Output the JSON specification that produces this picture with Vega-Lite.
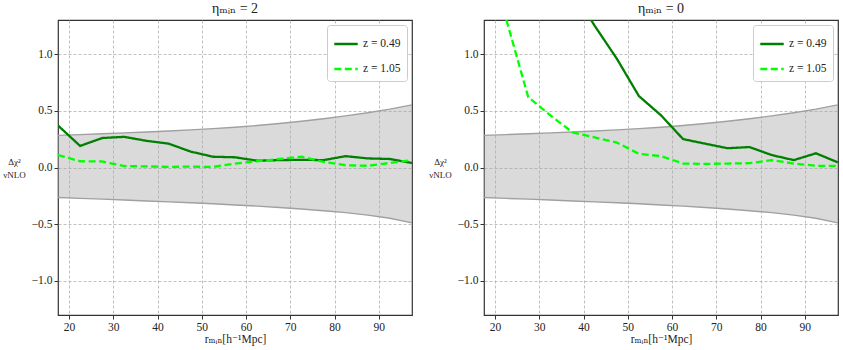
{
  "$schema": "https://vega.github.io/schema/vega-lite/v6.json",
  "background": "white",
  "padding": {"left": 2, "top": 1, "right": 4, "bottom": 4},
  "spacing": 15,
  "config": {
    "font": "'Liberation Serif', 'DejaVu Serif', serif",
    "view": {"stroke": "#333333", "strokeWidth": 1.2},
    "axis": {
      "labelFont": "'Liberation Serif', 'DejaVu Serif', serif", "labelFontSize": 11.5, "labelColor": "#222222",
      "tickColor": "#333333", "tickSize": 4, "labelPadding": 2, "domain": false,
      "gridColor": "#b0b0b0", "gridDash": [3, 2], "gridWidth": 0.8,
      "titleFont": "'Liberation Serif', 'DejaVu Serif', serif", "titleFontWeight": "normal", "titleFontSize": 11.5, "titleColor": "#222222"
    },
    "title": {"font": "'Liberation Serif', 'DejaVu Serif', serif", "fontSize": 14, "fontWeight": "normal", "color": "#222222", "offset": 4},
    "legend": {
      "orient": "top-right", "offset": 5, "fillColor": "white", "strokeColor": "#cccccc", "cornerRadius": 3,
      "padding": 6, "labelFont": "'Liberation Serif', 'DejaVu Serif', serif", "labelFontSize": 11.5, "labelColor": "#222222",
      "symbolStrokeWidth": 2.5, "symbolSize": 550, "rowPadding": 6
    }
  },
  "datasets": {
    "band": [
      {"x": 17.5, "upper": 0.283, "lower": -0.265},
      {"x": 22.5, "upper": 0.29, "lower": -0.272},
      {"x": 27.5, "upper": 0.297, "lower": -0.279},
      {"x": 32.5, "upper": 0.305, "lower": -0.287},
      {"x": 37.5, "upper": 0.313, "lower": -0.295},
      {"x": 42.5, "upper": 0.322, "lower": -0.303},
      {"x": 47.5, "upper": 0.332, "lower": -0.311},
      {"x": 52.5, "upper": 0.343, "lower": -0.32},
      {"x": 57.5, "upper": 0.355, "lower": -0.33},
      {"x": 62.5, "upper": 0.37, "lower": -0.34},
      {"x": 67.5, "upper": 0.388, "lower": -0.352},
      {"x": 72.5, "upper": 0.408, "lower": -0.366},
      {"x": 77.5, "upper": 0.43, "lower": -0.381},
      {"x": 82.5, "upper": 0.455, "lower": -0.398},
      {"x": 87.5, "upper": 0.483, "lower": -0.42},
      {"x": 92.5, "upper": 0.515, "lower": -0.447},
      {"x": 97.5, "upper": 0.552, "lower": -0.488}
    ],
    "lines": [
      {"panel": "a", "series": "z = 0.49", "x": 17.5, "value": 0.37},
      {"panel": "a", "series": "z = 0.49", "x": 22.5, "value": 0.19},
      {"panel": "a", "series": "z = 0.49", "x": 27.5, "value": 0.26},
      {"panel": "a", "series": "z = 0.49", "x": 32.5, "value": 0.27},
      {"panel": "a", "series": "z = 0.49", "x": 37.5, "value": 0.235},
      {"panel": "a", "series": "z = 0.49", "x": 42.5, "value": 0.21},
      {"panel": "a", "series": "z = 0.49", "x": 47.5, "value": 0.14},
      {"panel": "a", "series": "z = 0.49", "x": 52.5, "value": 0.095},
      {"panel": "a", "series": "z = 0.49", "x": 57.5, "value": 0.09},
      {"panel": "a", "series": "z = 0.49", "x": 62.5, "value": 0.06},
      {"panel": "a", "series": "z = 0.49", "x": 67.5, "value": 0.065},
      {"panel": "a", "series": "z = 0.49", "x": 72.5, "value": 0.068},
      {"panel": "a", "series": "z = 0.49", "x": 77.5, "value": 0.065},
      {"panel": "a", "series": "z = 0.49", "x": 82.5, "value": 0.1},
      {"panel": "a", "series": "z = 0.49", "x": 87.5, "value": 0.08},
      {"panel": "a", "series": "z = 0.49", "x": 92.5, "value": 0.075},
      {"panel": "a", "series": "z = 0.49", "x": 97.5, "value": 0.04},
      {"panel": "a", "series": "z = 1.05", "x": 17.5, "value": 0.11},
      {"panel": "a", "series": "z = 1.05", "x": 22.5, "value": 0.055},
      {"panel": "a", "series": "z = 1.05", "x": 27.5, "value": 0.053},
      {"panel": "a", "series": "z = 1.05", "x": 32.5, "value": 0.012},
      {"panel": "a", "series": "z = 1.05", "x": 37.5, "value": 0.01},
      {"panel": "a", "series": "z = 1.05", "x": 42.5, "value": 0.005},
      {"panel": "a", "series": "z = 1.05", "x": 47.5, "value": 0.008},
      {"panel": "a", "series": "z = 1.05", "x": 52.5, "value": 0.005},
      {"panel": "a", "series": "z = 1.05", "x": 57.5, "value": 0.035},
      {"panel": "a", "series": "z = 1.05", "x": 62.5, "value": 0.055},
      {"panel": "a", "series": "z = 1.05", "x": 67.5, "value": 0.075},
      {"panel": "a", "series": "z = 1.05", "x": 72.5, "value": 0.095},
      {"panel": "a", "series": "z = 1.05", "x": 77.5, "value": 0.05},
      {"panel": "a", "series": "z = 1.05", "x": 82.5, "value": 0.02},
      {"panel": "a", "series": "z = 1.05", "x": 87.5, "value": 0.015},
      {"panel": "a", "series": "z = 1.05", "x": 92.5, "value": 0.04},
      {"panel": "a", "series": "z = 1.05", "x": 97.5, "value": 0.065},
      {"panel": "b", "series": "z = 0.49", "x": 17.5, "value": 3.4},
      {"panel": "b", "series": "z = 0.49", "x": 22.5, "value": 2.9},
      {"panel": "b", "series": "z = 0.49", "x": 27.5, "value": 2.4},
      {"panel": "b", "series": "z = 0.49", "x": 32.5, "value": 1.95},
      {"panel": "b", "series": "z = 0.49", "x": 37.5, "value": 1.56},
      {"panel": "b", "series": "z = 0.49", "x": 42.5, "value": 1.25},
      {"panel": "b", "series": "z = 0.49", "x": 47.5, "value": 0.96},
      {"panel": "b", "series": "z = 0.49", "x": 52.5, "value": 0.63},
      {"panel": "b", "series": "z = 0.49", "x": 57.5, "value": 0.46},
      {"panel": "b", "series": "z = 0.49", "x": 62.5, "value": 0.25},
      {"panel": "b", "series": "z = 0.49", "x": 67.5, "value": 0.21},
      {"panel": "b", "series": "z = 0.49", "x": 72.5, "value": 0.17},
      {"panel": "b", "series": "z = 0.49", "x": 77.5, "value": 0.18},
      {"panel": "b", "series": "z = 0.49", "x": 82.5, "value": 0.11},
      {"panel": "b", "series": "z = 0.49", "x": 87.5, "value": 0.065},
      {"panel": "b", "series": "z = 0.49", "x": 92.5, "value": 0.125},
      {"panel": "b", "series": "z = 0.49", "x": 97.5, "value": 0.045},
      {"panel": "b", "series": "z = 1.05", "x": 17.5, "value": 2.3},
      {"panel": "b", "series": "z = 1.05", "x": 22.5, "value": 1.31},
      {"panel": "b", "series": "z = 1.05", "x": 27.5, "value": 0.62},
      {"panel": "b", "series": "z = 1.05", "x": 32.5, "value": 0.46},
      {"panel": "b", "series": "z = 1.05", "x": 37.5, "value": 0.31},
      {"panel": "b", "series": "z = 1.05", "x": 42.5, "value": 0.265},
      {"panel": "b", "series": "z = 1.05", "x": 47.5, "value": 0.22},
      {"panel": "b", "series": "z = 1.05", "x": 52.5, "value": 0.12},
      {"panel": "b", "series": "z = 1.05", "x": 57.5, "value": 0.1},
      {"panel": "b", "series": "z = 1.05", "x": 62.5, "value": 0.035},
      {"panel": "b", "series": "z = 1.05", "x": 67.5, "value": 0.032},
      {"panel": "b", "series": "z = 1.05", "x": 72.5, "value": 0.035},
      {"panel": "b", "series": "z = 1.05", "x": 77.5, "value": 0.038},
      {"panel": "b", "series": "z = 1.05", "x": 82.5, "value": 0.065},
      {"panel": "b", "series": "z = 1.05", "x": 87.5, "value": 0.035},
      {"panel": "b", "series": "z = 1.05", "x": 92.5, "value": 0.015},
      {"panel": "b", "series": "z = 1.05", "x": 97.5, "value": 0.015}
    ]
  },
  "resolve": {
    "scale": {"color": "independent", "strokeDash": "independent"},
    "legend": {"color": "independent", "strokeDash": "independent"}
  },
  "hconcat": [
    {
      "title": "ηₘᵢₙ = 2",
      "width": 354,
      "height": 295,
      "layer": [
        {
          "data": {"name": "band"},
          "mark": {"type": "area", "color": "#a8a8a8", "opacity": 0.42, "clip": true},
          "encoding": {
            "x": {"field": "x", "type": "quantitative", "title": "rₘᵢₙ[h⁻¹Mpc]", "scale": {"domain": [17.5, 97.5], "nice": false, "zero": false}, "axis": {"values": [20, 30, 40, 50, 60, 70, 80, 90], "format": "d", "titlePadding": 1}},
            "y": {"field": "upper", "type": "quantitative", "title": ["Δχ²", "νNLO"], "scale": {"domain": [-1.3, 1.3], "nice": false}, "axis": {"values": [-1, -0.5, 0, 0.5, 1], "format": ".1f", "titleAngle": 0, "titleAlign": "center", "titleBaseline": "middle", "titleX": -44, "titleY": 141, "titleFontSize": 9, "titleLineHeight": 13}},
            "y2": {"field": "lower"}
          }
        },
        {
          "data": {"name": "band"},
          "mark": {"type": "line", "color": "#a0a0a0", "strokeWidth": 1.4, "clip": true},
          "encoding": {
            "x": {"field": "x", "type": "quantitative", "title": "rₘᵢₙ[h⁻¹Mpc]"},
            "y": {"field": "upper", "type": "quantitative", "title": ["Δχ²", "νNLO"]}
          }
        },
        {
          "data": {"name": "band"},
          "mark": {"type": "line", "color": "#a0a0a0", "strokeWidth": 1.4, "clip": true},
          "encoding": {
            "x": {"field": "x", "type": "quantitative", "title": "rₘᵢₙ[h⁻¹Mpc]"},
            "y": {"field": "lower", "type": "quantitative", "title": ["Δχ²", "νNLO"]}
          }
        },
        {
          "data": {"name": "lines"},
          "transform": [{"filter": "datum.panel === 'a'"}],
          "mark": {"type": "line", "strokeWidth": 2.3, "clip": true},
          "encoding": {
            "x": {"field": "x", "type": "quantitative", "title": "rₘᵢₙ[h⁻¹Mpc]"},
            "y": {"field": "value", "type": "quantitative", "title": ["Δχ²", "νNLO"]},
            "color": {"field": "series", "type": "nominal", "scale": {"domain": ["z = 0.49", "z = 1.05"], "range": ["#007f00", "#00ff00"]}, "legend": {"title": null}},
            "strokeDash": {"field": "series", "type": "nominal", "scale": {"domain": ["z = 0.49", "z = 1.05"], "range": [[1, 0], [7, 3.5]]}, "legend": {"title": null}}
          }
        }
      ]
    },
    {
      "title": "ηₘᵢₙ = 0",
      "width": 354,
      "height": 295,
      "layer": [
        {
          "data": {"name": "band"},
          "mark": {"type": "area", "color": "#a8a8a8", "opacity": 0.42, "clip": true},
          "encoding": {
            "x": {"field": "x", "type": "quantitative", "title": "rₘᵢₙ[h⁻¹Mpc]", "scale": {"domain": [17.5, 97.5], "nice": false, "zero": false}, "axis": {"values": [20, 30, 40, 50, 60, 70, 80, 90], "format": "d", "titlePadding": 1}},
            "y": {"field": "upper", "type": "quantitative", "title": ["Δχ²", "νNLO"], "scale": {"domain": [-1.3, 1.3], "nice": false}, "axis": {"values": [-1, -0.5, 0, 0.5, 1], "format": ".1f", "titleAngle": 0, "titleAlign": "center", "titleBaseline": "middle", "titleX": -44, "titleY": 141, "titleFontSize": 9, "titleLineHeight": 13}},
            "y2": {"field": "lower"}
          }
        },
        {
          "data": {"name": "band"},
          "mark": {"type": "line", "color": "#a0a0a0", "strokeWidth": 1.4, "clip": true},
          "encoding": {
            "x": {"field": "x", "type": "quantitative", "title": "rₘᵢₙ[h⁻¹Mpc]"},
            "y": {"field": "upper", "type": "quantitative", "title": ["Δχ²", "νNLO"]}
          }
        },
        {
          "data": {"name": "band"},
          "mark": {"type": "line", "color": "#a0a0a0", "strokeWidth": 1.4, "clip": true},
          "encoding": {
            "x": {"field": "x", "type": "quantitative", "title": "rₘᵢₙ[h⁻¹Mpc]"},
            "y": {"field": "lower", "type": "quantitative", "title": ["Δχ²", "νNLO"]}
          }
        },
        {
          "data": {"name": "lines"},
          "transform": [{"filter": "datum.panel === 'b'"}],
          "mark": {"type": "line", "strokeWidth": 2.3, "clip": true},
          "encoding": {
            "x": {"field": "x", "type": "quantitative", "title": "rₘᵢₙ[h⁻¹Mpc]"},
            "y": {"field": "value", "type": "quantitative", "title": ["Δχ²", "νNLO"]},
            "color": {"field": "series", "type": "nominal", "scale": {"domain": ["z = 0.49", "z = 1.05"], "range": ["#007f00", "#00ff00"]}, "legend": {"title": null}},
            "strokeDash": {"field": "series", "type": "nominal", "scale": {"domain": ["z = 0.49", "z = 1.05"], "range": [[1, 0], [7, 3.5]]}, "legend": {"title": null}}
          }
        }
      ]
    }
  ]
}
